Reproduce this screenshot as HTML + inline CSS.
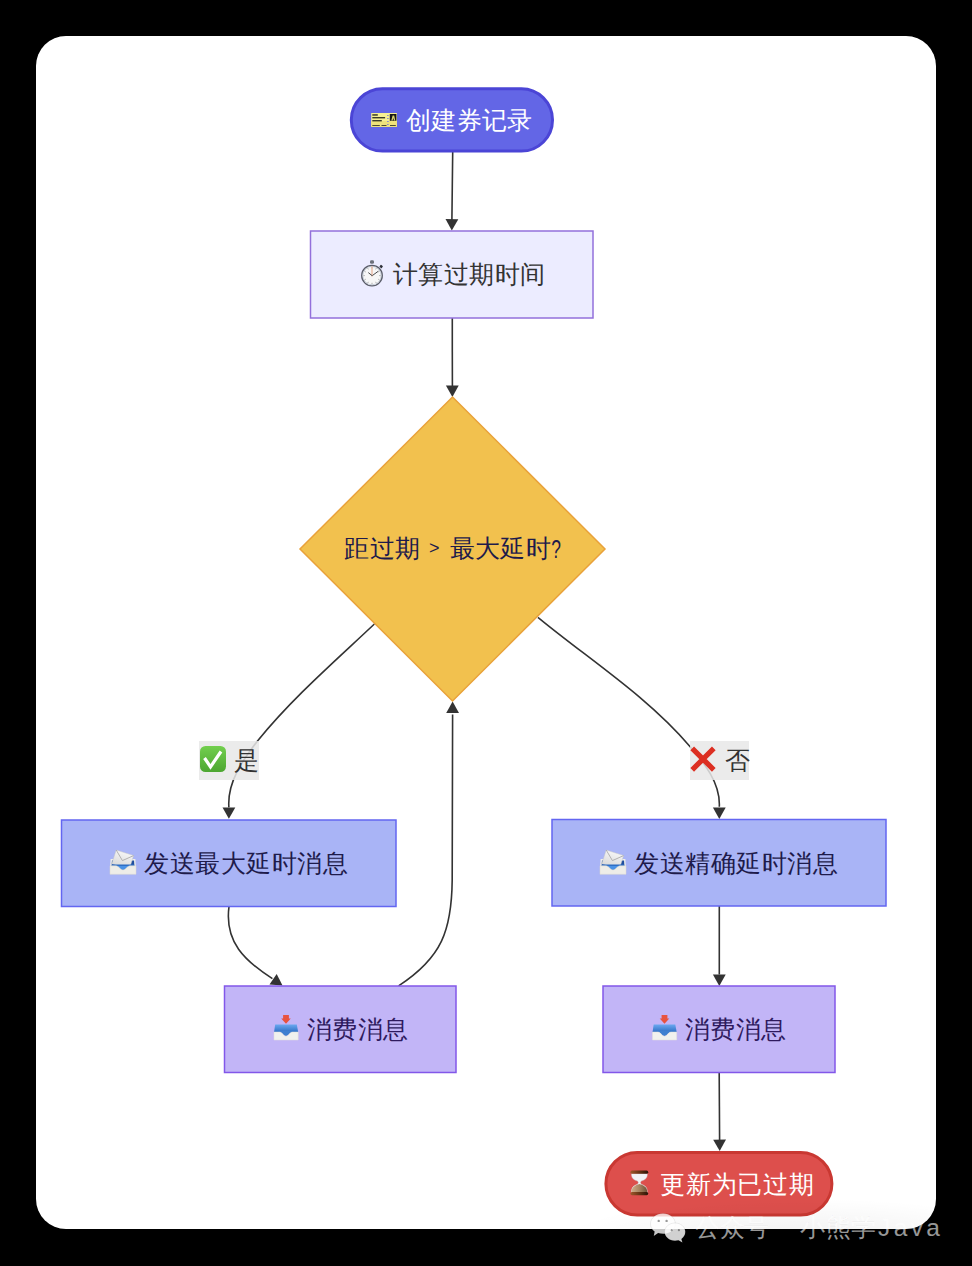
<!DOCTYPE html>
<html><head><meta charset="utf-8">
<style>
html,body{margin:0;padding:0;background:#000;width:972px;height:1266px;overflow:hidden}
svg{display:block}
text{font-family:"Liberation Sans",sans-serif}
</style></head>
<body>
<svg width="972" height="1266" viewBox="0 0 972 1266">
<defs>
  <marker id="ah" viewBox="0 0 12 12" refX="12" refY="6" markerWidth="12" markerHeight="12" markerUnits="userSpaceOnUse" orient="auto">
    <path d="M0,0 L12,6 L0,12 z" fill="#333"/>
  </marker>
</defs>
<rect x="0" y="0" width="972" height="1266" fill="#000"/>
<rect x="36" y="36" width="900" height="1193" rx="30" ry="30" fill="#fff"/>

<!-- edges -->
<g fill="none" stroke="#333" stroke-width="1.6">
  <path d="M452.7,152.0 C452.6,163.3 452.0,208.7 451.9,220.0"/>
  <path d="M452.3,318.0 C452.3,329.3 452.3,374.7 452.4,386.0"/>
  <path d="M374.4,624.0 C334.4,661.7 292.5,697.9 257.7,740.7 C243.1,759.6 227.0,782.1 228.9,807.4"/>
  <path d="M537.9,617.3 C588.6,659.1 646.6,695.8 689.5,746.0 C703.8,762.7 720.6,782.6 719.3,806.7"/>
  <path d="M229.0,906.6 C224.3,941.9 244.8,960.9 272.4,978.6"/>
  <path d="M398.6,985.8 C442.0,957.5 451.7,930.1 452.2,880.0 L452.6,714.5"/>
  <path d="M719.3,906.0 C719.3,917.4 719.3,963.1 719.3,974.5"/>
  <path d="M719.2,1072.5 C719.3,1083.8 719.5,1128.8 719.6,1140.0"/>
</g>
<g>
  <path d="M445.5,219.0 L451.8,230.5 L458.3,219.2 Z" fill="#333"/>
  <path d="M445.9,385.6 L452.4,397.0 L458.7,385.6 Z" fill="#333"/>
  <path d="M222.5,807.4 L228.9,818.8 L235.3,807.4 Z" fill="#333"/>
  <path d="M712.9,807.6 L719.3,819.0 L725.7,807.6 Z" fill="#333"/>
  <path d="M269.5,984.4 L282.5,985.6 L276.7,973.9 Z" fill="#333"/>
  <path d="M459.0,712.9 L452.6,701.5 L446.2,712.9 Z" fill="#333"/>
  <path d="M712.9,974.6 L719.3,986.0 L725.7,974.6 Z" fill="#333"/>
  <path d="M713.2,1139.7 L719.7,1151.0 L726.0,1139.5 Z" fill="#333"/>
</g>

<!-- nodes -->
<rect x="351.3" y="88.8" width="201.2" height="62.3" rx="31.15" fill="#6366E6" stroke="#4B45D6" stroke-width="3"/>
<rect x="310.5" y="231" width="282.5" height="87" fill="#ECECFF" stroke="#9370DB" stroke-width="1.5"/>
<path d="M452.5,397 L605,549 L452.5,701 L300,549 Z" fill="#F2C14E" stroke="#E9A23B" stroke-width="1.5"/>
<rect x="61.5" y="820" width="334.5" height="86.5" fill="#A9B4F6" stroke="#6366F1" stroke-width="1.5"/>
<rect x="552" y="819.5" width="334" height="86.5" fill="#A9B4F6" stroke="#6366F1" stroke-width="1.5"/>
<rect x="224.5" y="986" width="231.5" height="86.5" fill="#C2B5F7" stroke="#8257E9" stroke-width="1.5"/>
<rect x="603" y="986" width="232" height="86.5" fill="#C2B5F7" stroke="#8257E9" stroke-width="1.5"/>
<rect x="605.9" y="1152.5" width="226" height="62.5" rx="31.25" fill="#DD4F4C" stroke="#C93832" stroke-width="3"/>

<!-- labels -->
<rect x="199" y="741" width="60" height="39" fill="#e8e8e8" fill-opacity="0.85"/>
<rect x="690" y="741" width="59" height="39" fill="#e8e8e8" fill-opacity="0.85"/>

<!-- emoji -->
<defs>
  <linearGradient id="gck" x1="0" y1="0" x2="0" y2="1"><stop offset="0" stop-color="#72CF4E"/><stop offset="1" stop-color="#4DA632"/></linearGradient>
  <linearGradient id="gblue" x1="0" y1="0" x2="0" y2="1"><stop offset="0" stop-color="#6AA8F0"/><stop offset="1" stop-color="#2F6FC4"/></linearGradient>
  <linearGradient id="gsand" x1="0" y1="0" x2="1" y2="0"><stop offset="0" stop-color="#D9B48A"/><stop offset="1" stop-color="#8A6440"/></linearGradient>
  <linearGradient id="genv" x1="0" y1="0" x2="0" y2="1"><stop offset="0" stop-color="#F4F4F4"/><stop offset="1" stop-color="#D9D9D9"/></linearGradient>
  <g id="envtray">
    <!-- tray rim/back -->
    <path d="M0.6,10 L25.4,10 L25.8,17 L0.2,17 Z" fill="#EDEDEA"/>
    <path d="M2,11.5 L24,11.5 L24.4,17 L1.6,17 Z" fill="#1F4E9E"/>
    <!-- envelope tilted -->
    <g transform="rotate(17.8 6.2 1)">
      <rect x="6.2" y="1" width="18.3" height="14.5" fill="url(#genv)" stroke="#C4C4C4" stroke-width="0.4"/>
      <path d="M6.2,1 L15.35,9.2 L24.5,1" fill="none" stroke="#A9A9A9" stroke-width="0.8"/>
    </g>
    <path d="M2,15.5 L24.2,15.5 L24.4,17 C18,17 16,21 13,21 C10,21 8,17 1.6,17 Z" fill="#2E6FC6"/>
    <path d="M7,17 C9,17.2 10,20.8 13,20.8 C16,20.8 17,17.2 19,17 Z" fill="#4A92E6"/>
    <!-- tray front -->
    <path d="M0,16.8 L6,16.8 C9,16.8 10,21 13,21 C16,21 17,16.8 20,16.8 L26,16.8 L26,25.3 L0,25.3 Z" fill="#EEEDE8" stroke="#DCD8CE" stroke-width="0.5"/>
  </g>
  <g id="inbox">
    <path d="M9.1,0 L14.9,0 L14.9,3.6 L16.8,3.6 L12,8.7 L7.2,3.6 L9.1,3.6 Z" fill="#E8533F"/>
    <path d="M1.2,9.6 L22.8,9.6 L24.2,17.2 L0,17.2 Z" fill="url(#gblue)"/>
    <path d="M3,16 C8,16 9,21 12,21 C15,21 16,16 21,16 Z" fill="#3F7FD0"/>
    <path d="M0,17 L5.5,17 C8.5,17 9,21.2 12,21.2 C15,21.2 15.5,17 18.5,17 L24.2,17 L24.2,25 L0,25 Z" fill="#F1F1EE" stroke="#E2DFD8" stroke-width="0.5"/>
  </g>
</defs>
<g>
  <!-- ticket -->
  <rect x="371.2" y="113" width="25.7" height="13.8" fill="#F6EF93"/>
  <rect x="371.2" y="121" width="25.7" height="5.8" fill="#EFE27C"/>
  <g fill="#3A3A2A">
    <rect x="372.3" y="114.2" width="5.5" height="1.5"/>
    <rect x="372.3" y="117" width="12.8" height="1.4"/>
    <rect x="372.3" y="120" width="9.5" height="1.4"/>
    <rect x="372.3" y="125" width="7.5" height="0.9"/>
    <rect x="381.5" y="125" width="5" height="0.9"/>
    <rect x="390" y="125" width="5.8" height="0.9"/>
  </g>
  <rect x="389.8" y="114" width="6.6" height="6.8" fill="#161616"/>
  <path d="M391.3,120.5 L392.6,115.5 L394.2,115.5 L395.3,120.5 L394,120.5 L393.4,118 L392.6,120.5 Z" fill="#D6CF70"/>
  <g fill="#6366E6"><rect x="387.3" y="115" width="1.2" height="1"/><rect x="387.3" y="118" width="1.2" height="1"/><rect x="387.3" y="121" width="1.2" height="1"/><rect x="387.3" y="124" width="1.2" height="1"/></g>
  <!-- stopwatch -->
  <rect x="370" y="260.2" width="4" height="3.6" rx="1.4" fill="#6C707A"/>
  <rect x="379.8" y="265.2" width="2.8" height="2.6" rx="0.6" fill="#2E3038" transform="rotate(40 381.2 266.5)"/>
  <circle cx="372" cy="275.6" r="10.3" fill="#F7F7F7" stroke="#5A5C68" stroke-width="1.3"/>
  <circle cx="372" cy="275.6" r="9.2" fill="none" stroke="#9BA8BC" stroke-width="0.5"/>
  <g stroke="#9A9A9A" stroke-width="0.8"><line x1="372.00" y1="268.40" x2="372.00" y2="267.00"/><line x1="375.60" y1="269.36" x2="376.30" y2="268.15"/><line x1="378.24" y1="272.00" x2="379.45" y2="271.30"/><line x1="379.20" y1="275.60" x2="380.60" y2="275.60"/><line x1="378.24" y1="279.20" x2="379.45" y2="279.90"/><line x1="375.60" y1="281.84" x2="376.30" y2="283.05"/><line x1="372.00" y1="282.80" x2="372.00" y2="284.20"/><line x1="368.40" y1="281.84" x2="367.70" y2="283.05"/><line x1="365.76" y1="279.20" x2="364.55" y2="279.90"/><line x1="364.80" y1="275.60" x2="363.40" y2="275.60"/><line x1="365.76" y1="272.00" x2="364.55" y2="271.30"/><line x1="368.40" y1="269.36" x2="367.70" y2="268.15"/></g>
  <line x1="372" y1="276.5" x2="372" y2="266.3" stroke="#EAB7A0" stroke-width="1.3"/>
  <line x1="372" y1="275.6" x2="368.3" y2="272.6" stroke="#4A4A4A" stroke-width="1"/>
  <line x1="372.3" y1="275.6" x2="378.3" y2="271.2" stroke="#4A4A4A" stroke-width="1"/>
  <!-- check -->
  <rect x="200" y="746" width="26" height="26" rx="5.5" fill="url(#gck)"/>
  <path d="M204.5,758 L210.5,766.8 L221,751.5" fill="none" stroke="#fff" stroke-width="3.2" stroke-linejoin="miter"/>
  <!-- cross -->
  <path d="M692.2,748.4 L713.8,769.8 M713.8,748.4 L692.2,769.8" stroke="#DC2F22" stroke-width="5.2"/>
  <!-- envelope trays -->
  <use href="#envtray" x="110" y="849"/>
  <use href="#envtray" x="600" y="849"/>
  <!-- inbox -->
  <use href="#inbox" x="274" y="1015"/>
  <use href="#inbox" x="652.5" y="1015"/>
  <!-- hourglass -->
  <defs>
    <linearGradient id="gcap" x1="0" y1="0" x2="1" y2="0"><stop offset="0" stop-color="#A0582A"/><stop offset="0.6" stop-color="#5C2E12"/><stop offset="1" stop-color="#2A1408"/></linearGradient>
    <linearGradient id="gsand2" x1="0" y1="0" x2="1" y2="0"><stop offset="0" stop-color="#CFAE8A"/><stop offset="0.5" stop-color="#A88461"/><stop offset="1" stop-color="#6E5238"/></linearGradient>
  </defs>
  <path d="M631.5,1173.6 C631.2,1178 633.5,1180 637.6,1181 L638.4,1182.6 L637.6,1184.2 C633.5,1185.5 631.2,1187.5 631.5,1192.4 L647.3,1192.4 C647.6,1187.5 645.3,1185.5 641.2,1184.2 L640.4,1182.6 L641.2,1181 C645.3,1180 647.6,1178 647.3,1173.6 Z" fill="#F2F3F5" stroke="#C9CDD3" stroke-width="0.4"/>
  <path d="M631.6,1192.4 C631.4,1188 633.8,1186 638,1184.6 L639.4,1184 L640.8,1184.6 C645,1186 647.4,1188 647.2,1192.4 Z" fill="url(#gsand2)"/>
  <rect x="630.4" y="1170.6" width="17.8" height="3.2" rx="1.6" fill="url(#gcap)"/>
  <rect x="630.4" y="1192" width="17.8" height="3.2" rx="1.6" fill="url(#gcap)"/>
</g>
<!-- text -->
<g font-size="25.2">
  <text x="406" y="129" fill="#fff" textLength="126" lengthAdjust="spacing">创建券记录</text>
  <text x="393" y="283" fill="#333" textLength="152" lengthAdjust="spacing">计算过期时间</text>
  <text x="344" y="557" fill="#1E1B4B" textLength="76" lengthAdjust="spacing">距过期</text>
  <text x="429" y="553.5" fill="#1E1B4B" font-size="18">&gt;</text>
  <text x="449.5" y="557" fill="#1E1B4B" textLength="101" lengthAdjust="spacing">最大延时</text>
  <text transform="translate(551.3 558) scale(0.68 1)" fill="#1E1B4B" font-size="25.6">?</text>
  <text x="144" y="872" fill="#1E1B4B" textLength="204" lengthAdjust="spacing">发送最大延时消息</text>
  <text x="634" y="872" fill="#1E1B4B" textLength="204" lengthAdjust="spacing">发送精确延时消息</text>
  <text x="307" y="1038" fill="#2E1A5E" textLength="101" lengthAdjust="spacing">消费消息</text>
  <text x="685" y="1038" fill="#2E1A5E" textLength="101" lengthAdjust="spacing">消费消息</text>
  <text x="660" y="1193" fill="#fff" textLength="154" lengthAdjust="spacing">更新为已过期</text>
  <text x="234" y="768.6" fill="#333">是</text>
  <text x="724.5" y="769" fill="#333">否</text>
</g>
<!-- watermark -->
<defs>
  <radialGradient id="wmshade" cx="0.5" cy="0.5" r="0.5">
    <stop offset="0" stop-color="#000" stop-opacity="0.06"/>
    <stop offset="1" stop-color="#000" stop-opacity="0"/>
  </radialGradient>
  <clipPath id="cardclip"><rect x="36" y="36" width="900" height="1193" rx="30" ry="30"/></clipPath>
</defs>
<g clip-path="url(#cardclip)">
  <ellipse cx="800" cy="1240" rx="240" ry="42" fill="url(#wmshade)"/>
</g>
<g>
  <g stroke="#000" stroke-opacity="0.1" stroke-width="0.7">
    <path d="M663,1213.6 C670,1213.6 675.3,1218 675.3,1223.7 C675.3,1229.4 670,1233.8 663,1233.8 C661.2,1233.8 659.6,1233.5 658.1,1233 L653.8,1236 L654.6,1231.6 C651.9,1229.7 650.5,1226.9 650.5,1223.7 C650.5,1218 656,1213.6 663,1213.6 Z" fill="#fff" fill-opacity="0.78"/>
    <path d="M675,1223 C680.8,1223 685.3,1227 685.3,1231.8 C685.3,1234.8 683.8,1237.3 681.4,1238.9 L682.4,1242.4 L678.5,1240.3 C677.4,1240.6 676.2,1240.7 675,1240.7 C669.2,1240.7 664.6,1236.7 664.6,1231.8 C664.6,1227 669.2,1223 675,1223 Z" fill="#fff" fill-opacity="0.82"/>
  </g>
  <g fill="#222" fill-opacity="0.45">
    <circle cx="658.7" cy="1220.9" r="1.2"/><circle cx="666.6" cy="1220.9" r="1.2"/>
    <circle cx="671.7" cy="1230.2" r="1.1"/><circle cx="678.9" cy="1230.2" r="1.1"/>
  </g>
  <g font-size="24.5" fill="#fff" fill-opacity="0.6" stroke="#000" stroke-opacity="0.04" stroke-width="0.7">
    <text x="695" y="1236" textLength="74" lengthAdjust="spacing">公众号</text>
    <text x="800" y="1236" textLength="76" lengthAdjust="spacing">小熊学</text>
    <text x="878" y="1236" textLength="62" lengthAdjust="spacing">Java</text>
  </g>
</g>
</svg>
</body></html>
